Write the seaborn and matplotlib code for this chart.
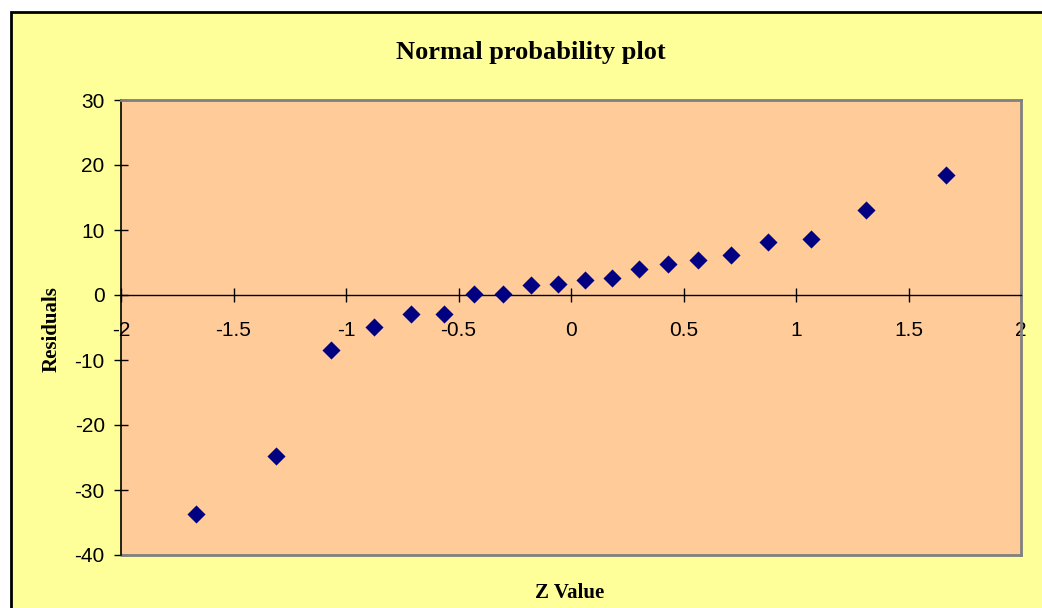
import matplotlib
matplotlib.use("Agg")
import matplotlib.pyplot as plt
import seaborn as sns
from matplotlib.patches import Rectangle

# Normal scores (Z values) and the matching ordered residuals
z_values = [-1.668, -1.309, -1.068, -0.876, -0.712, -0.566, -0.431, -0.303,
            -0.180, -0.060, 0.060, 0.180, 0.303, 0.431, 0.566, 0.712,
            0.876, 1.068, 1.309, 1.668]
residuals = [-33.7, -24.8, -8.5, -4.9, -2.9, -2.9, 0.15, 0.2,
             1.6, 1.7, 2.3, 2.6, 4.0, 4.7, 5.4, 6.1,
             8.2, 8.6, 13.1, 18.4]

x_ticks = [-2, -1.5, -1, -0.5, 0, 0.5, 1, 1.5, 2]
x_tick_labels = ["-2", "-1.5", "-1", "-0.5", "0", "0.5", "1", "1.5", "2"]
y_ticks = [-40, -30, -20, -10, 0, 10, 20, 30]
y_tick_labels = ["-40", "-30", "-20", "-10", "0", "10", "20", "30"]

sns.set_theme(style="white")
plt.rcParams['font.family'] = ['Liberation Sans', 'DejaVu Sans']
plt.rcParams['text.color'] = 'black'

W, H = 1042, 608
fig = plt.figure(figsize=(W / 100, H / 100), dpi=100, facecolor='white')

# Chart area: pale yellow with a black frame
fig.patches.append(Rectangle((10.5 / W, -0.05), 1.2, (H - 12) / H + 0.05,
                             transform=fig.transFigure, facecolor='#FFFF99',
                             edgecolor='black', linewidth=2, zorder=-1))

ax = fig.add_axes([121 / W, 53 / H, 900 / W, 455 / H])
ax.set_zorder(1)
ax.set_facecolor('#FFCC99')

sns.scatterplot(x=z_values, y=residuals, marker='D', s=85, color='#000080',
                linewidth=0, ax=ax, zorder=3)

ax.set_xlim(-2, 2)
ax.set_ylim(-40, 30)
ax.set_xticks(x_ticks)
ax.set_xticklabels(x_tick_labels)
ax.set_yticks(y_ticks)
ax.set_yticklabels(y_tick_labels)
ax.set_xlabel("")
ax.set_ylabel("")

# Horizontal axis crosses at zero
ax.spines['bottom'].set_position(('data', 0))
ax.spines['bottom'].set_color('black')
ax.spines['bottom'].set_linewidth(1)
ax.spines['left'].set_color('black')
ax.spines['left'].set_linewidth(1.2)
for side in ('top', 'right'):
    ax.spines[side].set_color('#808080')
    ax.spines[side].set_linewidth(2)
ax.plot([0, 1], [0, 0], transform=ax.transAxes, color='#808080', lw=2,
        clip_on=False, zorder=2)

ax.tick_params(axis='both', direction='inout', length=9.4, width=1,
               color='black', labelsize=15, labelcolor='black',
               bottom=True, left=True, top=False, right=False)
ax.tick_params(axis='x', pad=14)
ax.tick_params(axis='y', pad=7)
ax.grid(False)

fig.text(531 / W, 1 - 53 / H, "Normal probability plot", ha='center',
         va='center', fontsize=19, fontweight='bold', color='black',
         family=['Liberation Serif', 'DejaVu Serif'])
fig.text(52 / W, 1 - 329 / H, "Residuals", ha='center', va='center',
         rotation=90, fontsize=15, fontweight='bold', color='black',
         family=['Liberation Serif', 'DejaVu Serif'])
fig.text(570 / W, 1 - 593 / H, "Z Value", ha='center', va='center',
         fontsize=15, fontweight='bold', color='black',
         family=['Liberation Serif', 'DejaVu Serif'])

fig.savefig("out.png", dpi=100, facecolor=fig.get_facecolor())
